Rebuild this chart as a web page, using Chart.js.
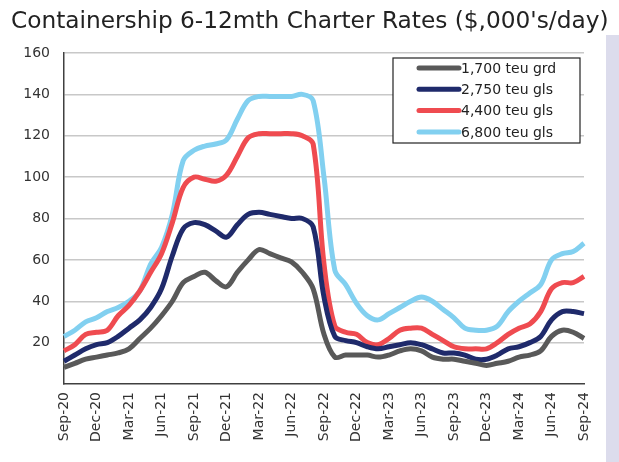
<!DOCTYPE html>
<html>
<head>
<meta charset="utf-8">
<script src="https://cdn.jsdelivr.net/npm/chart.js@4.4.1/dist/chart.umd.min.js"></script>
<style>
  html, body { margin: 0; padding: 0; background: #fff; }
  #wrap { position: relative; width: 619px; height: 462px; overflow: hidden; }
  #panel { position: absolute; left: 606px; top: 35px; width: 13px; height: 427px; background: #dcdcec; }
  canvas { position: absolute; left: 0; top: 0; }
</style>
</head>
<body>
<div id="wrap">
  <div id="panel"></div>
  <canvas id="chart" width="619" height="462"></canvas>
</div>
<script>
// monthly, Sep-20 .. Sep-24
const months = ['Jan', 'Feb', 'Mar', 'Apr', 'May', 'Jun', 'Jul', 'Aug', 'Sep', 'Oct', 'Nov', 'Dec'];
const labels = [];
for (let i = 0; i < 49; i++) {
  const m = (8 + i) % 12;
  const y = 20 + Math.floor((8 + i) / 12);
  labels.push(months[m] + '-' + y);
}

const seriesNames = ['1,700 teu grd', '2,750 teu gls', '4,400 teu gls', '6,800 teu gls'];

const teu1700 = [8, 10, 12, 13, 14, 15, 17, 22, 27, 33, 40, 49, 52, 54, 50, 47, 54, 60, 65, 63, 61, 59, 54, 46, 24,
  13, 14, 14, 14, 13, 14, 16, 17, 16, 13, 12, 12, 11, 10, 9, 10, 11, 13, 14, 16, 23, 26, 25, 22];
const teu2750 = [11, 14, 17, 19, 20, 23, 27, 31, 37, 46, 62, 75, 78, 77, 74, 71, 77, 82, 83, 82, 81, 80, 80, 76, 42,
  23, 21, 20, 18, 17, 18, 19, 20, 19, 17, 15, 15, 14, 12, 12, 14, 17, 18, 20, 23, 31, 35, 35, 34];
const teu4400 = [16, 19, 24, 25, 26, 33, 38, 45, 54, 63, 78, 95, 100, 99, 98, 101, 110, 119, 121, 121, 121, 121, 120, 116, 58,
  28, 25, 24, 20, 19, 22, 26, 27, 27, 24, 21, 18, 17, 17, 17, 20, 24, 27, 29, 35, 46, 49, 49, 52];
const teu6800 = [23, 26, 30, 32, 35, 37, 40, 45, 58, 66, 82, 108, 113, 115, 116, 118, 128, 137, 139, 139, 139, 139, 140, 137, 100,
  55, 48, 39, 33, 31, 34, 37, 40, 42, 40, 36, 32, 27, 26, 26, 28, 35, 40, 44, 48, 60, 63, 64, 68];

const yTicks = [20, 40, 60, 80, 100, 120, 140, 160];
const colors = ['#595959', '#1f2a6b', '#ef4b50', '#82d0f0'];
const titleText = "Containership 6-12mth Charter Rates ($,000's/day)";
const fontFamily = "'DejaVu Sans', sans-serif";

const boxLegend = {
  id: 'boxLegend',
  afterDraw(chart) {
    const ctx = chart.ctx;
    const left = 393, top = 58, right = 580, bottom = 143;
    ctx.save();
    ctx.fillStyle = '#fff';
    ctx.fillRect(left, top, right - left, bottom - top);
    ctx.strokeStyle = '#222';
    ctx.lineWidth = 1.2;
    ctx.strokeRect(left, top, right - left, bottom - top);
    ctx.font = '14px ' + fontFamily;
    ctx.textBaseline = 'middle';
    chart.data.datasets.forEach((ds, i) => {
      const y = 68 + i * 21.3;
      ctx.strokeStyle = ds.borderColor;
      ctx.lineWidth = 5;
      ctx.lineCap = 'round';
      ctx.beginPath();
      ctx.moveTo(419, y);
      ctx.lineTo(459, y);
      ctx.stroke();
      ctx.fillStyle = '#222';
      ctx.fillText(ds.label, 461, y + 1);
    });
    ctx.restore();
  }
};

const titlePlugin = {
  id: 'titlePlugin',
  afterDraw(chart) {
    const ctx = chart.ctx;
    ctx.save();
    let size = 24;
    ctx.font = size + 'px ' + fontFamily;
    const w = ctx.measureText(titleText).width;
    size = size * 598 / w;
    ctx.font = size + 'px ' + fontFamily;
    ctx.fillStyle = '#222';
    ctx.textBaseline = 'alphabetic';
    ctx.fillText(titleText, 11, 28);
    ctx.restore();
  }
};

new Chart(document.getElementById('chart'), {
  type: 'line',
  data: {
    labels: labels,
    datasets: [
      { label: seriesNames[0], data: teu1700, borderColor: colors[0] },
      { label: seriesNames[1], data: teu2750, borderColor: colors[1] },
      { label: seriesNames[2], data: teu4400, borderColor: colors[2] },
      { label: seriesNames[3], data: teu6800, borderColor: colors[3] }
    ].map(d => Object.assign(d, {
      borderWidth: 5,
      pointRadius: 0,
      tension: 0.35,
      fill: false
    }))
  },
  options: {
    responsive: false,
    animation: false,
    layout: { padding: { top: 53, right: 35, left: 0, bottom: 0 } },
    plugins: {
      legend: { display: false },
      tooltip: { enabled: false },
      title: { display: false }
    },
    scales: {
      x: {
        grid: { display: false, drawTicks: false },
        border: { display: true, color: '#404040', width: 1.5 },
        afterFit: s => { s.height = 78; },
        ticks: {
          autoSkip: false,
          maxRotation: 90,
          minRotation: 90,
          padding: 8,
          color: '#333',
          font: { family: fontFamily, size: 14 },
          callback: function (v, i) { return i % 3 === 0 ? labels[i] : ''; }
        }
      },
      y: {
        min: 0,
        max: 160,
        afterFit: s => { s.width = 64; },
        afterBuildTicks: s => {
          s.ticks = [0].concat(yTicks).map(v => ({ value: v }));
        },
        grid: {
          color: ctx => ctx.tick && ctx.tick.value === 0 ? 'rgba(0,0,0,0)' : '#c8c8c8',
          lineWidth: 1.5,
          drawTicks: false
        },
        border: { display: true, color: '#404040', width: 1.5 },
        ticks: {
          padding: 14,
          color: '#333',
          font: { family: fontFamily, size: 14 },
          callback: v => (v === 0 ? '' : v)
        }
      }
    }
  },
  plugins: [boxLegend, titlePlugin]
});
</script>
</body>
</html>
